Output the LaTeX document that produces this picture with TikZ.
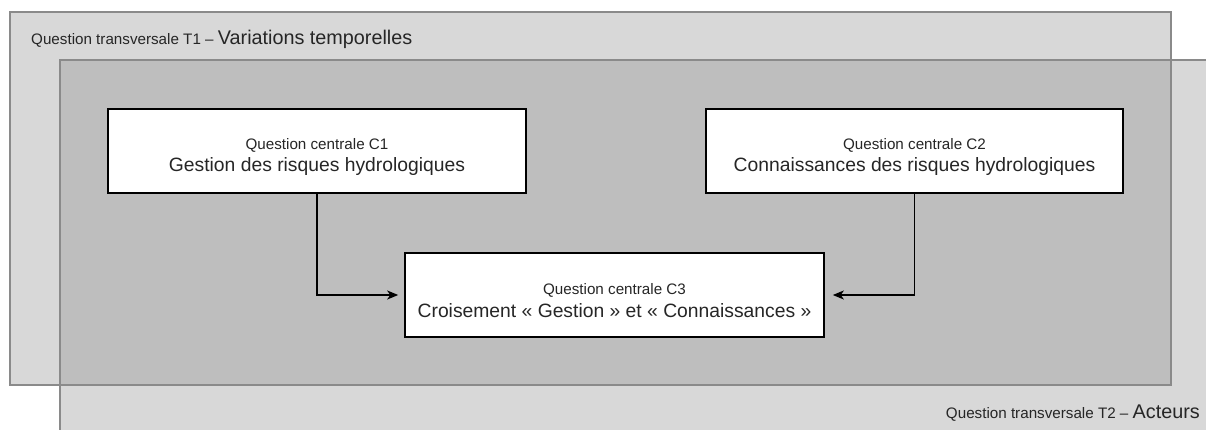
\documentclass[tikz,border=0pt]{standalone}
\usepackage{fontspec}
\setmainfont{Liberation Sans}
\usetikzlibrary{arrows.meta}
\definecolor{zonelight}{HTML}{D8D8D8}
\definecolor{zonedark}{HTML}{BEBEBE}
\definecolor{zoneedge}{HTML}{8A8A8A}
\definecolor{ink}{HTML}{262626}
\tikzset{
  qbox/.style={draw=black, line width=1.6pt, fill=white, minimum height=84pt, inner sep=0pt},
  qtext/.style={align=center, inner sep=0pt, text=ink},
  link/.style={draw=black, line width=1.4pt, -{Stealth[length=11pt,width=9pt,inset=3pt]}},
  zoneborder/.style={draw=zoneedge, line width=1.5pt},
}
\newcommand{\smalltxt}{\fontsize{15.2}{18}\selectfont}
\newcommand{\bigtxt}{\fontsize{19.3}{24}\selectfont}
\begin{document}
\begin{tikzpicture}[x=1pt,y=-1pt]
  \useasboundingbox (0,0) rectangle (1206,430);
  % transversal zones
  \fill[zonelight] (10,12) rectangle (1171,385);
  \fill[zonelight] (60,60) rectangle (1220,440);
  \fill[zonedark] (60,60) rectangle (1171,385);
  \draw[zoneborder] (10,12) rectangle (1171,385);
  \draw[zoneborder] (1220,60) -- (60,60) -- (60,440);
  \node[anchor=base west, inner sep=0pt, text=ink] (t1) at (31,45)
    {\smalltxt Question transversale T1 -- \fontsize{19.8}{24}\selectfont Variations temporelles};
  \node[anchor=base east, inner sep=0pt, text=ink] (t2) at (1200,418)
    {\smalltxt Question transversale T2 -- \fontsize{19.8}{24}\selectfont Acteurs};
  % central questions
  \node[qbox, minimum width=418pt] (c1) at (317,151) {};
  \node[qbox, minimum width=417pt] (c2) at (914.5,151) {};
  \node[qbox, minimum width=419pt] (c3) at (614.5,295) {};
  \node[qtext] (c1t) at ([yshift=-6pt]c1.center)
    {\smalltxt Question centrale C1\\[5pt]\bigtxt Gestion des risques hydrologiques};
  \node[qtext] (c2t) at ([yshift=-6pt]c2.center)
    {\smalltxt Question centrale C2\\[5pt]\bigtxt Connaissances des risques hydrologiques};
  \node[qtext] (c3t) at ([yshift=-6pt]c3.center)
    {\smalltxt Question centrale C3\\[5pt]\bigtxt Croisement « Gestion » et « Connaissances »};
  % links
  \draw[link, shorten >=6pt] (c1.south) |- (c3.west);
  \draw[link, shorten >=8pt] (c2.south) |- (c3.east);
\end{tikzpicture}
\end{document}
